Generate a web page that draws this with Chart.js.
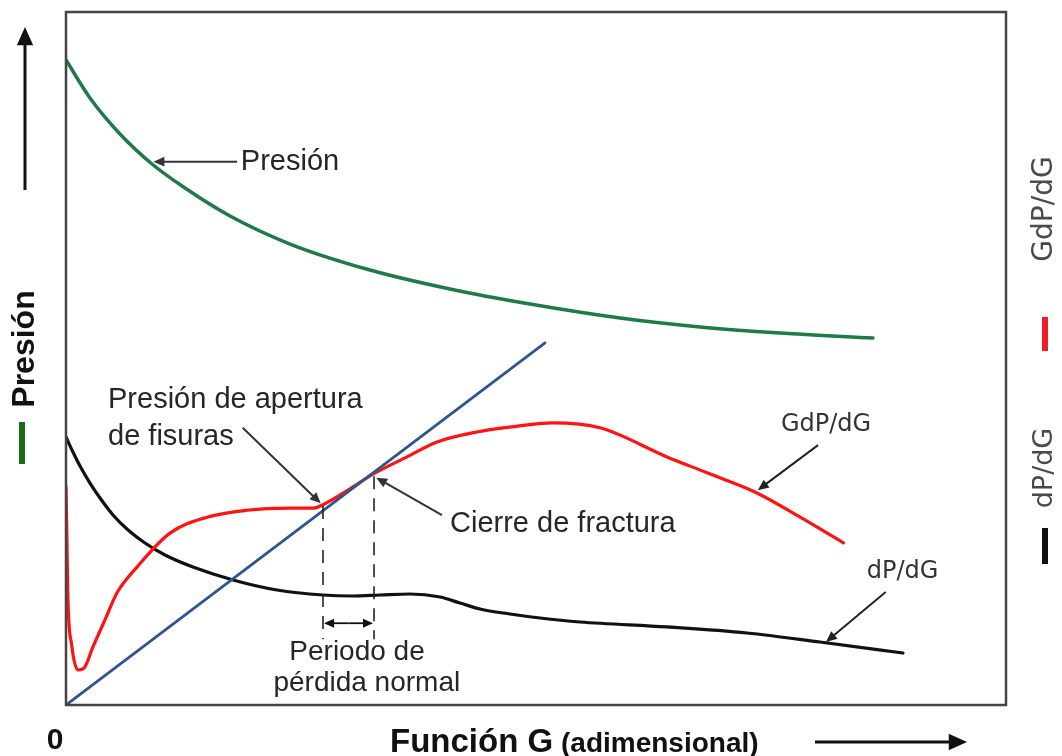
<!DOCTYPE html>
<html>
<head>
<meta charset="utf-8">
<script src="https://cdn.jsdelivr.net/npm/chart.js@4.4.1/dist/chart.umd.min.js"></script>
<style>
    body { margin: 0; background: #fff; }
    canvas { display: block; }
</style>
</head>
<body>
<canvas id="funcionGChart" width="1062" height="756"></canvas>
<script>
// valores (G de 0 a 100, presion de 0 a 100, sin unidades)
const presionData = [
    [0, 93.07], [2.55, 87.59], [5.74, 82.4], [9.15, 78.07], [12.66, 74.6], [17.45, 70.56],
    [23.83, 66.52], [32.34, 62.77], [40.85, 60.03], [49.36, 57.86], [58.94, 55.84],
    [67.45, 54.55], [75.96, 53.68], [85.85, 52.96]
];

const gdpdgData = [
    [0, 31.5], [0.1, 23.8], [0.2, 15.6], [0.6, 8.7], [1.28, 5.05], [1.9, 5.3],
    [2.87, 8.4], [4.15, 12.3], [5.43, 16.2], [7.55, 19.9], [11.06, 24.8], [15.0, 27.1],
    [19.26, 28.1], [23.83, 28.4], [26.28, 28.4], [27.34, 28.9], [30.0, 31.0],
    [32.66, 33.3], [36.28, 35.8], [39.47, 37.95], [43.72, 39.4], [47.23, 40.1],
    [51.8, 40.7], [56.8, 40.0], [63.94, 35.8], [68.2, 33.5], [73.5, 30.6],
    [78.1, 27.1], [82.7, 23.4]
];

const dpdgData = [
    [0, 38.67], [0.74, 36.51], [1.49, 34.49], [2.55, 32.03], [3.62, 29.87], [5.0, 27.42],
    [6.6, 25.25], [8.4, 23.38], [10.53, 21.65], [13.51, 19.91], [17.77, 18.04],
    [22.45, 16.59], [27.34, 15.87], [30.53, 15.73], [33.4, 15.87], [36.6, 16.02],
    [39.8, 15.58], [41.91, 14.72], [44.04, 13.85], [47.23, 13.13], [50.43, 12.55],
    [54.68, 11.98], [63.94, 11.26], [72.45, 10.39], [80.21, 9.09], [89.04, 7.5]
];

const tangenteData = [[0, 0], [50.96, 52.24]];

// periodo de perdida normal: apertura y cierre
const periodoG = [27.34, 32.77];

document.addEventListener('DOMContentLoaded', () => {
    const txtFont = "'Liberation Sans', Arial, sans-serif";
    const verdanaFont = "'DejaVu Sans', Verdana, sans-serif";

    function toPoints(arr) {
        return arr.map(p => ({ x: p[0], y: p[1] }));
    }

    function drawArrow(ctx, x1, y1, x2, y2, width, head, color) {
        const ang = Math.atan2(y2 - y1, x2 - x1);
        ctx.save();
        ctx.strokeStyle = color;
        ctx.fillStyle = color;
        ctx.lineWidth = width;
        ctx.beginPath();
        ctx.moveTo(x1, y1);
        ctx.lineTo(x2 - Math.cos(ang) * head * 0.8, y2 - Math.sin(ang) * head * 0.8);
        ctx.stroke();
        ctx.beginPath();
        ctx.moveTo(x2, y2);
        ctx.lineTo(x2 - head * Math.cos(ang - 0.42), y2 - head * Math.sin(ang - 0.42));
        ctx.lineTo(x2 - head * Math.cos(ang + 0.42), y2 - head * Math.sin(ang + 0.42));
        ctx.closePath();
        ctx.fill();
        ctx.restore();
    }

    function drawText(ctx, text, x, y, font, color, align) {
        ctx.save();
        ctx.font = font;
        ctx.fillStyle = color;
        ctx.textAlign = align || 'left';
        ctx.textBaseline = 'middle';
        ctx.fillText(text, x, y);
        ctx.restore();
    }

    function drawRotated(ctx, text, x, y, font, color) {
        ctx.save();
        ctx.translate(x, y);
        ctx.rotate(-Math.PI / 2);
        ctx.font = font;
        ctx.fillStyle = color;
        ctx.textAlign = 'center';
        ctx.textBaseline = 'middle';
        ctx.fillText(text, 0, 0);
        ctx.restore();
    }

    const anotaciones = {
        id: 'anotaciones',
        afterDatasetsDraw(chart) {
            const ctx = chart.ctx;
            const a = chart.chartArea;
            const sx = v => chart.scales.x.getPixelForValue(v);
            const sy = v => chart.scales.y.getPixelForValue(v);
            const dark = '#262626';

            // marco
            ctx.save();
            ctx.strokeStyle = '#454545';
            ctx.lineWidth = 2.5;
            ctx.strokeRect(a.left, a.top, a.right - a.left, a.bottom - a.top);
            ctx.restore();

            // lineas punteadas del periodo
            ctx.save();
            ctx.strokeStyle = '#222';
            ctx.lineWidth = 1.6;
            ctx.setLineDash([13, 9]);
            ctx.beginPath();
            ctx.moveTo(sx(periodoG[0]), sy(28.7));
            ctx.lineTo(sx(periodoG[0]), sy(9.5));
            ctx.moveTo(sx(periodoG[1]), sy(33.0));
            ctx.lineTo(sx(periodoG[1]), sy(9.5));
            ctx.stroke();
            ctx.restore();

            // flecha doble
            const yd = sy(11.8);
            drawArrow(ctx, (sx(periodoG[0]) + sx(periodoG[1])) / 2, yd, sx(periodoG[0]) + 1, yd, 1.8, 11, '#111');
            drawArrow(ctx, (sx(periodoG[0]) + sx(periodoG[1])) / 2, yd, sx(periodoG[1]) - 1, yd, 1.8, 11, '#111');

            const f29 = '29px ' + txtFont;
            drawText(ctx, 'Presión', sx(18.6), sy(78.4), f29, dark);
            drawArrow(ctx, sx(18.2), sy(78.4), sx(9.3), sy(78.4), 2, 12, '#333');

            drawText(ctx, 'Presión de apertura', sx(4.47), sy(44.0), f29, dark);
            drawText(ctx, 'de fisuras', sx(4.47), sy(38.7), f29, dark);
            drawArrow(ctx, sx(18.8), sy(40.0), sx(27.1), sy(29.1), 2, 12, '#333');

            drawText(ctx, 'Cierre de fractura', sx(40.85), sy(26.1), f29, dark);
            drawArrow(ctx, sx(40.0), sy(27.4), sx(33.0), sy(32.8), 2, 12, '#333');

            drawText(ctx, 'GdP/dG', sx(80.85), sy(40.4), '24px ' + verdanaFont, '#333', 'center');
            drawArrow(ctx, sx(80.0), sy(37.5), sx(73.6), sy(31.0), 2, 12, '#222');

            drawText(ctx, 'dP/dG', sx(89.0), sy(19.2), '24px ' + verdanaFont, '#333', 'center');
            drawArrow(ctx, sx(87.2), sy(16.3), sx(80.85), sy(9.1), 2, 12, '#222');

            drawText(ctx, 'Periodo de', sx(30.96), sy(7.65), '28px ' + txtFont, dark, 'center');
            drawText(ctx, 'pérdida normal', sx(32.0), sy(3.2), '28px ' + txtFont, dark, 'center');

            // eje x
            drawText(ctx, '0', a.left - 11, a.bottom + 36, 'bold 30px ' + txtFont, '#111', 'center');
            drawText(ctx, 'Función G', 390, a.bottom + 38, 'bold 33px ' + txtFont, '#111');
            drawText(ctx, '(adimensional)', 561, a.bottom + 39, 'bold 28px ' + txtFont, '#111');
            drawArrow(ctx, 815, a.bottom + 37, 967, a.bottom + 37, 3, 20, '#111');

            // eje y izquierdo
            drawArrow(ctx, 25, 190, 25, 27, 3, 20, '#111');
            drawRotated(ctx, 'Presión', 25, 349, 'bold 32px ' + txtFont, '#111');
            ctx.save();
            ctx.fillStyle = '#1a6b1a';
            ctx.fillRect(19, 422, 6, 42);
            ctx.restore();

            // eje derecho
            drawRotated(ctx, 'GdP/dG', 1045, 209, '28px ' + verdanaFont, '#4a4a4a');
            drawRotated(ctx, 'dP/dG', 1045, 468, '27px ' + verdanaFont, '#4a4a4a');
            ctx.save();
            ctx.fillStyle = '#f01c24';
            ctx.fillRect(1042, 317, 6, 34);
            ctx.fillStyle = '#111';
            ctx.fillRect(1042, 528, 6, 36);
            ctx.restore();
        }
    };

    function renderFuncionGChart() {
        const ctx = document.getElementById('funcionGChart').getContext('2d');
        new Chart(ctx, {
            type: 'line',
            data: {
                datasets: [
                    {
                        label: 'Presión',
                        data: toPoints(presionData),
                        borderColor: '#1e7b47',
                        borderWidth: 3.5,
                        cubicInterpolationMode: 'monotone'
                    },
                    {
                        label: 'Tangente',
                        data: toPoints(tangenteData),
                        borderColor: '#2e5590',
                        borderWidth: 2.8
                    },
                    {
                        label: 'GdP/dG',
                        data: toPoints(gdpdgData),
                        borderColor: '#ff1212',
                        borderWidth: 3.2,
                        cubicInterpolationMode: 'monotone'
                    },
                    {
                        label: 'dP/dG',
                        data: toPoints(dpdgData),
                        borderColor: '#111111',
                        borderWidth: 3.2,
                        cubicInterpolationMode: 'monotone'
                    }
                ]
            },
            options: {
                responsive: false,
                animation: false,
                devicePixelRatio: 1,
                layout: {
                    padding: { left: 66, top: 12, right: 56, bottom: 51 }
                },
                elements: {
                    point: { radius: 0 },
                    line: { borderCapStyle: 'round' }
                },
                scales: {
                    x: { type: 'linear', min: 0, max: 100, display: false },
                    y: { type: 'linear', min: 0, max: 100, display: false }
                },
                plugins: {
                    legend: { display: false },
                    tooltip: { enabled: false }
                }
            },
            plugins: [anotaciones]
        });
    }

    renderFuncionGChart();
});
</script>
</body>
</html>
